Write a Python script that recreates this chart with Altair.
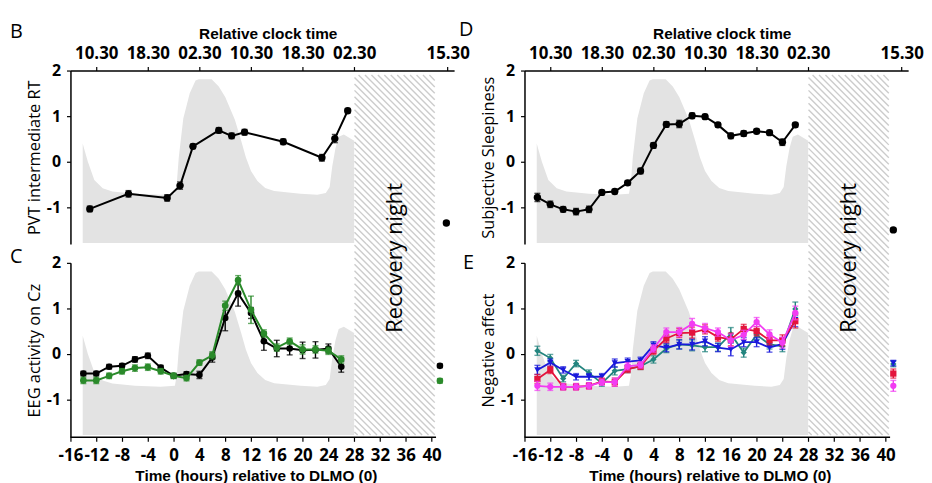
import altair as alt
import numpy as np
import pandas as pd

# ---------------- values ----------------
HOURS = [-14, -12, -10, -8, -6, -4, -2, 0, 2, 4, 6, 8, 10, 12, 14, 16, 18, 20, 22, 24, 26]

# Panel B: PVT intermediate RT
PVT_HOURS = [-13, -7, -1, 1, 3, 7, 9, 11, 17, 23, 25, 27]
PVT_RT = [-1.03, -0.70, -0.79, -0.52, 0.34, 0.69, 0.57, 0.65, 0.44, 0.09, 0.51, 1.12]
PVT_ERR = [0.06, 0.07, 0.07, 0.08, 0.05, 0.06, 0.06, 0.06, 0.06, 0.07, 0.09, 0.05]
PVT_REC_HOUR, PVT_REC, PVT_REC_ERR = 42.3, -1.34, 0.04

# Panel D: Subjective sleepiness
SLEEPY = [-0.78, -0.93, -1.04, -1.09, -1.04, -0.67, -0.65, -0.46, -0.20, 0.36, 0.82,
          0.83, 1.01, 0.99, 0.81, 0.57, 0.62, 0.67, 0.64, 0.43, 0.81]
SLEEPY_ERR = [0.09, 0.07, 0.06, 0.07, 0.07, 0.05, 0.05, 0.05, 0.06, 0.06, 0.06,
              0.08, 0.06, 0.05, 0.05, 0.06, 0.06, 0.05, 0.05, 0.07, 0.05]
SLEEPY_REC_HOUR, SLEEPY_REC, SLEEPY_REC_ERR = 41.2, -1.49, 0.04

# Panel C: EEG activity on Cz (two series)
EEG_BLACK = [-0.43, -0.43, -0.28, -0.26, -0.12, -0.04, -0.30, -0.48, -0.44, -0.46, -0.08,
             0.79, 1.33, 0.90, 0.28, 0.12, 0.12, 0.08, 0.09, 0.12, -0.28]
EEG_BLACK_ERR = [0.05, 0.05, 0.05, 0.05, 0.06, 0.06, 0.05, 0.05, 0.05, 0.08, 0.10,
                 0.28, 0.28, 0.12, 0.20, 0.18, 0.14, 0.18, 0.18, 0.10, 0.12]
EEG_GREEN = [-0.58, -0.58, -0.48, -0.38, -0.31, -0.29, -0.38, -0.48, -0.53, -0.19, -0.03,
             1.06, 1.62, 0.97, 0.45, 0.14, 0.28, 0.10, 0.10, 0.07, -0.12]
EEG_GREEN_ERR = [0.07, 0.07, 0.06, 0.06, 0.07, 0.07, 0.06, 0.06, 0.06, 0.06, 0.08,
                 0.10, 0.10, 0.30, 0.08, 0.08, 0.07, 0.10, 0.08, 0.08, 0.08]
EEG_REC_HOUR, EEG_BLACK_REC, EEG_GREEN_REC = 41.3, -0.26, -0.59

# Panel E: Negative affect (four series)
NA_TEAL = [0.07, -0.09, -0.54, -0.21, -0.42, -0.64, -0.37, -0.33, -0.27, -0.12, 0.12,
           0.21, 0.19, 0.15, 0.15, 0.44, 0.03, 0.42, 0.21, 0.17, 0.99]
NA_BLUE = [-0.35, -0.19, -0.35, -0.50, -0.50, -0.50, -0.20, -0.17, -0.14, 0.19, 0.14,
           0.21, 0.21, 0.28, 0.14, 0.10, 0.26, 0.26, 0.14, 0.22, 0.75]
NA_RED = [-0.55, -0.35, -0.72, -0.72, -0.70, -0.60, -0.62, -0.33, -0.27, 0.07, 0.34,
          0.46, 0.47, 0.54, 0.37, 0.32, 0.55, 0.50, 0.30, 0.30, 0.72]
NA_MAGENTA = [-0.70, -0.72, -0.72, -0.72, -0.70, -0.62, -0.62, -0.27, -0.24, 0.12, 0.48,
              0.48, 0.66, 0.57, 0.48, 0.30, 0.42, 0.70, 0.43, 0.25, 0.90]
NA_ERR = [0.10, 0.08, 0.07, 0.07, 0.07, 0.07, 0.09, 0.08, 0.07, 0.08, 0.09,
          0.10, 0.12, 0.10, 0.09, 0.14, 0.10, 0.10, 0.10, 0.12, 0.15]
NA_REC_HOUR = 41.2
NA_REC = [-0.22, -0.20, -0.43, -0.70]
NA_REC_ERR = [0.06, 0.06, 0.10, 0.12]

# grey background profile
GREY_HOURS = [-14.1, -13.8, -13.3, -12.3, -11.0, -9.5, -6.0, -2.0, 0.2, 0.5, 0.8, 1.5, 2.5,
              3.4, 3.9, 5.9, 7.0, 8.0, 9.5, 10.5, 11.2, 12.0, 13.0, 14.2, 15.6, 19.7, 22.3,
              23.6, 24.2, 24.6, 25.1, 25.6, 26.4, 28.0]
GREY_LEVEL = [0.40, 0.25, 0.00, -0.40, -0.58, -0.65, -0.70, -0.72, -0.70, -0.45, 0.10, 0.95, 1.50,
              1.78, 1.81, 1.81, 1.65, 1.42, 0.92, 0.45, 0.10, -0.20, -0.42, -0.57, -0.64, -0.70, -0.72,
              -0.68, -0.55, -0.10, 0.30, 0.55, 0.60, 0.46]
GREY_FLOOR = -1.78

RECOVERY_START, RECOVERY_END = 28.05, 40.5
HATCH_TOP, HATCH_BOTTOM = 1.9, -1.78
RECOVERY_LABEL = "Recovery night"
RECOVERY_LABEL_POS = (34.3, 2.11)

CLOCK_TICKS = [-12, -4, 4, 12, 20, 28, 42.5]
CLOCK_LABELS = ["10.30", "18.30", "02.30", "10.30", "18.30", "02.30", "15.30"]
DLMO_TICKS = list(range(-16, 41, 4))
Y_TICKS = [-1, 0, 1, 2]

# ---------------- layout ----------------
W = 387
XMIN, XMAX = -16, 43.5
H_TOP, H_BOT = 175, 176
YDOM_TOP = [-1.8, 2.0]
YDOM_BOT = [-1.83, 2.0]
HSPACE, VSPACE = 71, 19
HATCH_STEP = 6.5

LABEL_FONT = "Open Sans"
TITLE_FONT = "Liberation Sans"

xs = alt.Scale(domain=[XMIN, XMAX], nice=False, zero=False)


def ysc(dom):
    return alt.Scale(domain=dom, nice=False, zero=False)


clock_expr = "''"
for pos, lab in zip(reversed(CLOCK_TICKS), reversed(CLOCK_LABELS)):
    clock_expr = f"abs(datum.value - ({pos})) < 0.01 ? '{lab}' : ({clock_expr})"


def top_axis():
    return alt.Axis(orient="top", values=CLOCK_TICKS, labelExpr=clock_expr,
                    title="Relative clock time", titleFont=TITLE_FONT, titleFontSize=15.5,
                    titleFontWeight="bold", titleColor="black", titleX=199, titlePadding=3,
                    labelFont=LABEL_FONT, labelFontSize=17, labelFontWeight="bold",
                    labelColor="black", labelPadding=4, labelOverlap=False, labelFlush=False,
                    labelBound=False, tickSize=4, tickColor="black", tickWidth=1.2,
                    domainColor="black", domainWidth=1.5, grid=False)


def bottom_axis():
    return alt.Axis(orient="bottom", values=DLMO_TICKS, labelExpr="datum.value + ''",
                    title="Time (hours) relative to DLMO (0)", titleFont=TITLE_FONT,
                    titleFontSize=15.5, titleFontWeight="bold", titleColor="black",
                    titleX=187, titlePadding=6,
                    labelFont=LABEL_FONT, labelFontSize=17, labelFontWeight="bold",
                    labelColor="black", labelPadding=6, labelOverlap=False, labelFlush=False,
                    labelBound=False, tickSize=4, tickColor="black", tickWidth=1.2,
                    domain=False, grid=False)


def left_axis(title):
    return alt.Axis(orient="left", values=Y_TICKS, labelExpr="datum.value + ''", title=title,
                    titleFont=LABEL_FONT, titleFontSize=16.5, titleFontWeight="normal",
                    titleColor="black", titlePadding=4,
                    labelFont=LABEL_FONT, labelFontSize=16, labelFontWeight="bold",
                    labelColor="black", labelPadding=6, labelOverlap=False, labelFlush=False,
                    tickSize=4, tickColor="black", tickWidth=1.2,
                    domainColor="black", domainWidth=1.5, grid=False)


class Panel:
    """Holds the scales and axes shared by every layer of one panel."""

    def __init__(self, ydom, xaxis, yaxis):
        self.ydom = ydom
        self.ys = ysc(ydom)
        self.xaxis = xaxis
        self.yaxis = yaxis

    def X(self, field):
        return alt.X(field, scale=xs, axis=self.xaxis)

    def Y(self, field):
        return alt.Y(field, scale=self.ys, axis=self.yaxis)


def grey_layer(p):
    df = pd.DataFrame({"h": GREY_HOURS, "v": GREY_LEVEL, "f": GREY_FLOOR})
    return alt.Chart(df).mark_area(color="#e3e3e3", opacity=1).encode(
        x=p.X("h:Q"), y=p.Y("v:Q"), y2="f:Q")


PXH = W / (XMAX - XMIN)


def kpx(dom, h):
    return h / (dom[1] - dom[0])


ROW2_TOP = H_TOP + VSPACE
G_TOP = (YDOM_TOP[1] - HATCH_TOP) * kpx(YDOM_TOP, H_TOP)
G_BOT = ROW2_TOP + (YDOM_BOT[1] - HATCH_BOTTOM) * kpx(YDOM_BOT, H_BOT)
GX0 = (RECOVERY_START - XMIN) * PXH
GX1 = (RECOVERY_END - XMIN) * PXH


def hatch_layer(p, clip0, clip1, row_top, h):
    dom = p.ydom
    k = kpx(dom, h)
    rows = []
    n0 = int(np.floor((clip0 - GX1) / HATCH_STEP)) - 1
    n1 = int(np.ceil((clip1 - GX0) / HATCH_STEP)) + 1
    for n in range(n0, n1 + 1):
        c = n * HATCH_STEP
        lo = max(GX0, clip0 - c)
        hi = min(GX1, clip1 - c)
        if hi - lo > 0.3:
            rows.append({"x": XMIN + lo / PXH, "x2": XMIN + hi / PXH,
                         "y": dom[1] - (lo + c - row_top) / k,
                         "y2": dom[1] - (hi + c - row_top) / k})
    df = pd.DataFrame(rows)
    return alt.Chart(df).mark_rule(color="#cccccc", strokeWidth=1.4).encode(
        x=p.X("x:Q"), x2="x2:Q", y=p.Y("y:Q"), y2="y2:Q")


def series_layers(p, hours, vals, errs, rec_hour, rec_val, rec_err, color, shape, size, lw):
    main = pd.DataFrame({"h": hours, "v": vals, "e": errs})
    pts = pd.concat([main, pd.DataFrame({"h": [rec_hour], "v": [rec_val], "e": [rec_err]})],
                    ignore_index=True)
    pts["lo"] = pts["v"] - pts["e"]
    pts["hi"] = pts["v"] + pts["e"]
    caps = pd.concat([pd.DataFrame({"h": pts["h"], "c": pts["lo"]}),
                      pd.DataFrame({"h": pts["h"], "c": pts["hi"]})], ignore_index=True)
    line = alt.Chart(main).mark_line(color=color, strokeWidth=lw).encode(x=p.X("h:Q"), y=p.Y("v:Q"))
    bars = alt.Chart(pts).mark_rule(color=color, strokeWidth=1.4).encode(
        x=p.X("h:Q"), y=p.Y("lo:Q"), y2="hi:Q")
    ticks = alt.Chart(caps).mark_tick(color=color, orient="horizontal", size=6, thickness=1.4).encode(
        x=p.X("h:Q"), y=p.Y("c:Q"))
    dots = alt.Chart(pts).mark_point(filled=True, shape=shape, size=size, color=color,
                                     opacity=1).encode(x=p.X("h:Q"), y=p.Y("v:Q"))
    return [line, bars, ticks, dots]


def letter_layer(letter, px, py):
    return alt.Chart(pd.DataFrame({"t": [letter]})).mark_text(
        align="left", baseline="top", font=LABEL_FONT, fontSize=20, color="black"
    ).encode(x=alt.value(px), y=alt.value(py), text="t:N")


def recovery_text(p):
    df = pd.DataFrame({"h": [RECOVERY_LABEL_POS[0]], "v": [RECOVERY_LABEL_POS[1]], "t": [RECOVERY_LABEL]})
    return alt.Chart(df).mark_text(angle=270, font=LABEL_FONT, fontSize=22, color="black",
                                   align="center", baseline="middle").encode(
        x=p.X("h:Q"), y=p.Y("v:Q"), text="t:N")


def bottom_line(p):
    df = pd.DataFrame({"h": [XMIN], "h2": [40.7], "v": [p.ydom[0]]})
    return alt.Chart(df).mark_rule(color="black", strokeWidth=1.5).encode(
        x=p.X("h:Q"), x2="h2:Q", y=p.Y("v:Q"))


# ---------------- panels ----------------
pB = Panel(YDOM_TOP, top_axis(), left_axis("PVT intermediate RT"))
panel_B = alt.layer(
    grey_layer(pB),
    hatch_layer(pB, G_TOP, H_TOP, 0, H_TOP),
    *series_layers(pB, PVT_HOURS, PVT_RT, PVT_ERR, PVT_REC_HOUR, PVT_REC, PVT_REC_ERR,
                   "black", "circle", 55, 2),
    letter_layer("B", -61, -48.5),
).properties(width=W, height=H_TOP)

pD = Panel(YDOM_TOP, top_axis(), left_axis("Subjective Sleepiness"))
panel_D = alt.layer(
    grey_layer(pD),
    hatch_layer(pD, G_TOP, H_TOP, 0, H_TOP),
    *series_layers(pD, HOURS, SLEEPY, SLEEPY_ERR, SLEEPY_REC_HOUR, SLEEPY_REC, SLEEPY_REC_ERR,
                   "black", "circle", 55, 2),
    letter_layer("D", -66, -50.5),
).properties(width=W, height=H_TOP)

pC = Panel(YDOM_BOT, bottom_axis(), left_axis("EEG activity on Cz"))
panel_C = alt.layer(
    grey_layer(pC),
    hatch_layer(pC, H_TOP, G_BOT, ROW2_TOP, H_BOT),
    bottom_line(pC),
    *series_layers(pC, HOURS, EEG_BLACK, EEG_BLACK_ERR, EEG_REC_HOUR, EEG_BLACK_REC, 0.04,
                   "black", "circle", 45, 2),
    *series_layers(pC, HOURS, EEG_GREEN, EEG_GREEN_ERR, EEG_REC_HOUR, EEG_GREEN_REC, 0.05,
                   "#2a8a2a", "circle", 45, 2),
    recovery_text(pC),
    letter_layer("C", -61, -15.5),
).properties(width=W, height=H_BOT)

NA_SERIES = [
    (NA_TEAL, "#23857f", "diamond"),
    (NA_BLUE, "#1a1adb", "triangle-down"),
    (NA_RED, "#e3143c", "square"),
    (NA_MAGENTA, "#f23cf2", "circle"),
]
pE = Panel(YDOM_BOT, bottom_axis(), left_axis("Negative affect"))
na_layers = []
for (vals, col, shp), rv, re in zip(NA_SERIES, NA_REC, NA_REC_ERR):
    na_layers += series_layers(pE, HOURS, vals, NA_ERR, NA_REC_HOUR, rv, re, col, shp, 40, 1.8)

panel_E = alt.layer(
    grey_layer(pE),
    hatch_layer(pE, H_TOP, G_BOT, ROW2_TOP, H_BOT),
    bottom_line(pE),
    *na_layers,
    recovery_text(pE),
    letter_layer("E", -62, -9.5),
).properties(width=W, height=H_BOT)

chart = alt.concat(
    panel_B, panel_D, panel_C, panel_E, columns=2,
    spacing={"row": VSPACE, "column": HSPACE}, bounds="flush",
    padding={"left": 2, "top": 10, "right": 0, "bottom": 0},
).configure_view(stroke=None)

chart.save("out.html", embed_options={"renderer": "svg", "actions": False})
